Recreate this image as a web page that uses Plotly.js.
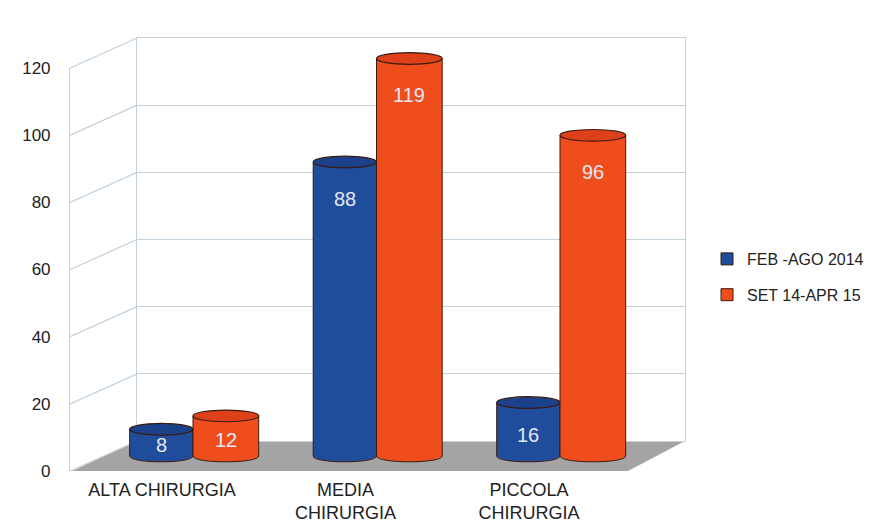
<!DOCTYPE html>
<html>
<head>
<meta charset="utf-8">
<script src="https://cdn.plot.ly/plotly-3.0.1.min.js"></script>
<style>html,body{margin:0;padding:0;background:#fff}#chart{width:880px;height:523px}</style>
</head>
<body>
<div id="chart"></div>
<script>
// ---- data ----
const categories = ["ALTA CHIRURGIA", "MEDIA<br>CHIRURGIA", "PICCOLA<br>CHIRURGIA"];
const seriesNames = ["FEB -AGO 2014", "SET 14-APR 15"];
const febAgo2014 = [8, 88, 16];
const set14Apr15 = [12, 119, 96];
const yTicks = [0, 20, 40, 60, 80, 100, 120];

// ---- styling / geometry ----
const W = 880, H = 523;
const px = v => v / W;
const py = v => 1 - v / H;
const colors = ["#1f4d9c", "#f04d1c"];
const topColors = ["#1a4189", "#de4119"];
const edge = "#3a1a10";
const wallColor = "#c4d2dc";
const textColor = "#222222";
const idx = categories.map((_, i) => i);

const series = [
  {name: seriesNames[0], y: febAgo2014, offset: -0.345, width: 0.345},
  {name: seriesNames[1], y: set14Apr15, offset: 0, width: 0.358}
];

// domains
const backX = [px(137), px(685)], backY = [py(441), py(38)];
const barX = [px(101.25), px(651.75)], barY = [py(466), py(48.5)];
const frontX = [px(70.25), px(620.75)], frontY = [py(471), py(68)];

const traces = series.map((s, k) => ({
  type: "bar",
  x: idx, y: s.y,
  name: s.name,
  legendgroup: "g" + k,
  offset: s.offset, width: s.width,
  marker: {color: colors[k], line: {width: 1, color: edge}},
  xaxis: "x2", yaxis: "y2",
  hoverinfo: "skip"
}));
traces.push({type: "scatter", x: [], y: [], xaxis: "x3", yaxis: "y3", showlegend: false, hoverinfo: "skip"});
traces.push({type: "scatter", x: [], y: [], xaxis: "x", yaxis: "y", showlegend: false, hoverinfo: "skip"});

const shapes = [];
// floor
const fy = t => frontY[0] + (frontY[1] - frontY[0]) * t / 120;
const by = t => backY[0] + (backY[1] - backY[0]) * t / 120;
shapes.push({
  type: "path", xref: "paper", yref: "paper", layer: "below",
  path: `M ${px(72)},${fy(0)} L ${backX[0]},${by(0)} L ${backX[1]},${by(0)} L ${px(628)},${fy(0)} Z`,
  fillcolor: "#a4a4a4", line: {width: 0}
});
// left-wall diagonals
yTicks.forEach(t => {
  shapes.push({type: "line", xref: "paper", yref: "paper", layer: "below",
    x0: frontX[0], y0: fy(t), x1: backX[0], y1: by(t),
    line: {color: wallColor, width: 1.3}});
});
// cylinder tops & bottoms
const eh = 1.75;
series.forEach((s, k) => {
  s.y.forEach((v, i) => {
    const x0 = i + s.offset, x1 = x0 + s.width;
    const inset = 0.004;
    // bottom: fill covering straight base edge + curved outline
    shapes.push({type: "circle", xref: "x2", yref: "y2", layer: "above",
      x0: x0 + inset, x1: x1 - inset, y0: -eh, y1: eh, fillcolor: colors[k], line: {width: 0}});
    shapes.push({type: "path", xref: "x2", yref: "y2", layer: "above",
      path: `M ${x0},0 C ${x0},${-eh * 4 / 3} ${x1},${-eh * 4 / 3} ${x1},0`,
      fillcolor: "rgba(0,0,0,0)", line: {color: edge, width: 1}});
    // top ellipse
    shapes.push({type: "circle", xref: "x2", yref: "y2", layer: "above",
      x0: x0, x1: x1, y0: v - eh, y1: v + eh, fillcolor: topColors[k], line: {color: edge, width: 1.2}});
  });
});

const annotations = [];
series.forEach((s, k) => {
  s.y.forEach((v, i) => {
    annotations.push({xref: "x2", yref: "y2", x: i + s.offset + s.width / 2,
      y: v - Math.min(11, 0.6 * v), text: String(v), showarrow: false,
      font: {family: "Liberation Sans, Arial, sans-serif", size: 20, color: "#e6e6f0"}});
  });
});

const layout = {
  width: W, height: H,
  margin: {l: 0, r: 0, t: 0, b: 0},
  paper_bgcolor: "#ffffff",
  plot_bgcolor: "rgba(0,0,0,0)",
  font: {family: "Liberation Sans, Arial, sans-serif", color: textColor},
  showlegend: true,
  legend: {x: px(707), y: py(242), xanchor: "left", yanchor: "top",
    font: {size: 16, color: textColor}, tracegroupgap: 12, traceorder: "grouped",
    itemwidth: 30, bgcolor: "rgba(0,0,0,0)"},
  // back wall
  xaxis: {domain: backX, range: [0, 1], showgrid: false, zeroline: false,
    showticklabels: false, ticks: "", showline: true, mirror: true,
    linecolor: wallColor, linewidth: 1.3, anchor: "y", fixedrange: true},
  yaxis: {domain: backY, range: [0, 120], dtick: 20, showgrid: true, gridcolor: wallColor,
    gridwidth: 1.3, zeroline: false, showticklabels: false, ticks: "", showline: true,
    mirror: true, linecolor: wallColor, linewidth: 1.3, anchor: "x", fixedrange: true},
  // bars
  xaxis2: {domain: barX, range: [-0.5, 2.5], visible: false, anchor: "y2", fixedrange: true},
  yaxis2: {domain: barY, range: [-3, 122], visible: false, anchor: "x2", fixedrange: true},
  // front axis
  xaxis3: {domain: frontX, range: [-0.5, 2.5], anchor: "y3", showgrid: false, zeroline: false,
    showline: false, ticks: "", tickvals: idx, ticktext: categories,
    tickfont: {size: 18, color: textColor}, ticklabelstandoff: 6, fixedrange: true},
  yaxis3: {domain: frontY, range: [0, 120], tickvals: yTicks, anchor: "x3", showgrid: false,
    zeroline: false, showline: true, linecolor: wallColor, linewidth: 1.3, ticks: "",
    tickfont: {size: 17, color: textColor}, ticklabelstandoff: 15, fixedrange: true},
  bargap: 0.3,
  shapes: shapes,
  annotations: annotations
};

Plotly.newPlot("chart", traces, layout, {staticPlot: true});
</script>
</body>
</html>
